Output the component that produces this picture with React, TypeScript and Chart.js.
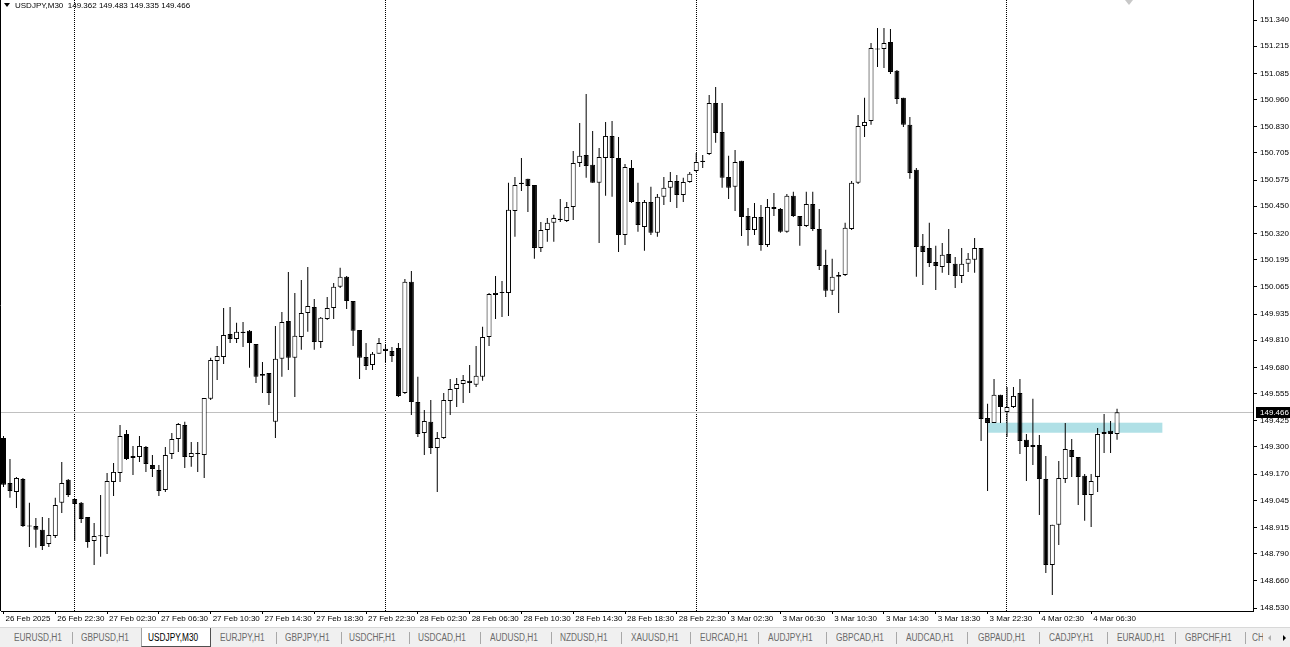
import React, { useEffect, useRef } from "react";
import { Chart, registerables } from "chart.js";

Chart.register(...registerables);

// ---- header quote ----
const symbolTitle = "USDJPY,M30";
const lastQuote = ["149.362", "149.483", "149.335", "149.466"];

// ---- OHLC (M30 bars, 26 Feb 18:30 .. 4 Mar 08:30) ----
const opens = [
  149.343, 149.128, 149.085, 149.147, 148.925, 148.923, 148.904, 148.837, 148.875, 149.033,
  149.143, 149.052, 149.033, 148.966, 148.851, 148.873, 148.870, 149.133, 149.176, 149.362,
  149.247, 149.252, 149.300, 149.214, 149.190, 149.095, 149.266, 149.338, 149.405, 149.252,
  149.271, 149.262, 149.530, 149.711, 149.730, 149.840, 149.816, 149.845, 149.855, 149.792,
  149.640, 149.654, 149.420, 149.721, 149.902, 149.726, 149.826, 149.940, 149.969, 149.802,
  149.912, 149.964, 150.065, 150.113, 149.997, 149.859, 149.730, 149.692, 149.745, 149.769,
  149.759, 149.773, 149.558, 150.089, 149.515, 149.367, 149.420, 149.295, 149.343, 149.520,
  149.577, 149.601, 149.616, 149.597, 149.635, 149.826, 150.026, 150.041, 150.036, 150.428,
  150.557, 150.581, 150.552, 150.251, 150.337, 150.371, 150.390, 150.380, 150.447, 150.657,
  150.695, 150.648, 150.562, 150.681, 150.786, 150.681, 150.313, 150.633, 150.471, 150.351,
  150.471, 150.323, 150.495, 150.538, 150.571, 150.504, 150.566, 150.619, 150.667, 150.700,
  150.944, 150.805, 150.590, 150.543, 150.667, 150.404, 150.337, 150.399, 150.265, 150.447,
  150.437, 150.328, 150.500, 150.404, 150.356, 150.461, 150.342, 150.170, 150.046, 150.113,
  150.122, 150.342, 150.562, 150.834, 150.858, 151.204, 151.202, 151.235, 151.097, 150.968,
  150.839, 150.624, 150.261, 150.251, 150.184, 150.160, 150.222, 150.175, 150.117, 150.175,
  150.194, 150.251, 149.438, 149.415, 149.549, 149.467, 149.491, 149.558, 149.334, 149.300,
  149.309, 149.147, 148.736, 148.928, 149.147, 149.286, 149.252, 149.162, 149.071, 149.157,
  149.362, 149.377, 149.362,
];
const highs = [
  149.353, 149.242, 149.157, 149.152, 149.033, 148.961, 148.966, 148.961, 149.057, 149.228,
  149.147, 149.052, 149.037, 148.966, 148.937, 149.071, 149.176, 149.224, 149.405, 149.381,
  149.305, 149.353, 149.305, 149.262, 149.214, 149.300, 149.367, 149.415, 149.420, 149.324,
  149.324, 149.534, 149.726, 149.783, 149.964, 149.969, 149.893, 149.897, 149.859, 149.792,
  149.706, 149.654, 149.878, 149.945, 150.136, 150.036, 150.098, 150.160, 150.007, 149.921,
  150.017, 150.084, 150.156, 150.117, 149.997, 149.859, 149.797, 149.754, 149.821, 149.788,
  149.778, 149.797, 150.103, 150.141, 149.635, 149.477, 149.525, 149.372, 149.558, 149.625,
  149.630, 149.644, 149.692, 149.783, 149.874, 150.036, 150.117, 150.093, 150.562, 150.590,
  150.681, 150.581, 150.552, 150.375, 150.394, 150.409, 150.485, 150.471, 150.714, 150.848,
  150.987, 150.810, 150.729, 150.853, 150.858, 150.781, 150.652, 150.671, 150.562, 150.480,
  150.543, 150.509, 150.590, 150.614, 150.600, 150.586, 150.614, 150.705, 150.695, 150.982,
  151.020, 150.944, 150.691, 150.719, 150.667, 150.442, 150.466, 150.456, 150.485, 150.514,
  150.442, 150.509, 150.519, 150.404, 150.519, 150.519, 150.437, 150.242, 150.199, 150.136,
  150.371, 150.571, 150.886, 150.968, 151.230, 151.302, 151.302, 151.297, 151.101, 150.968,
  150.877, 150.633, 150.318, 150.371, 150.261, 150.275, 150.342, 150.208, 150.251, 150.227,
  150.299, 150.251, 149.506, 149.625, 149.549, 149.587, 149.587, 149.625, 149.362, 149.530,
  149.357, 149.257, 148.928, 149.233, 149.415, 149.338, 149.252, 149.171, 149.171, 149.391,
  149.458, 149.424, 149.483,
];
const lows = [
  149.109, 149.057, 149.009, 148.918, 148.822, 148.818, 148.808, 148.822, 148.865, 148.985,
  149.061, 148.851, 148.937, 148.818, 148.736, 148.775, 148.789, 149.066, 149.133, 149.238,
  149.166, 149.228, 149.181, 149.157, 149.066, 149.085, 149.242, 149.276, 149.200, 149.205,
  149.181, 149.152, 149.525, 149.620, 149.697, 149.797, 149.797, 149.778, 149.678, 149.606,
  149.558, 149.501, 149.343, 149.635, 149.668, 149.539, 149.764, 149.850, 149.764, 149.773,
  149.907, 149.912, 150.060, 149.959, 149.783, 149.625, 149.668, 149.668, 149.745, 149.702,
  149.706, 149.539, 149.553, 149.453, 149.348, 149.262, 149.266, 149.085, 149.338, 149.453,
  149.491, 149.510, 149.558, 149.587, 149.616, 149.783, 149.912, 149.921, 149.926, 150.304,
  150.523, 150.423, 150.199, 150.232, 150.280, 150.280, 150.375, 150.375, 150.385, 150.638,
  150.586, 150.562, 150.275, 150.500, 150.495, 150.232, 150.265, 150.466, 150.328, 150.237,
  150.313, 150.304, 150.456, 150.471, 150.442, 150.471, 150.562, 150.614, 150.633, 150.695,
  150.753, 150.538, 150.485, 150.428, 150.308, 150.261, 150.313, 150.237, 150.256, 150.404,
  150.323, 150.323, 150.399, 150.261, 150.351, 150.332, 150.146, 150.017, 150.026, 149.940,
  150.117, 150.337, 150.557, 150.781, 150.839, 151.116, 151.111, 151.082, 150.939, 150.829,
  150.581, 150.113, 150.074, 150.160, 150.050, 150.132, 150.122, 150.060, 150.084, 150.136,
  150.132, 149.329, 149.090, 149.415, 149.415, 149.348, 149.486, 149.266, 149.138, 149.214,
  148.975, 148.698, 148.593, 148.832, 149.128, 149.157, 149.023, 148.947, 148.918, 149.085,
  149.271, 149.271, 149.335,
];
const closes = [
  149.119, 149.090, 149.152, 148.923, 148.920, 148.904, 148.827, 148.880, 149.023, 149.128,
  149.071, 149.028, 148.956, 148.846, 148.875, 148.878, 149.138, 149.181, 149.353, 149.242,
  149.257, 149.305, 149.219, 149.195, 149.090, 149.262, 149.338, 149.410, 149.252, 149.271,
  149.266, 149.534, 149.716, 149.735, 149.835, 149.816, 149.850, 149.850, 149.797, 149.635,
  149.649, 149.558, 149.721, 149.897, 149.726, 149.831, 149.940, 149.974, 149.802, 149.917,
  149.964, 150.065, 150.113, 149.997, 149.855, 149.726, 149.687, 149.745, 149.797, 149.759,
  149.735, 149.544, 150.089, 149.515, 149.362, 149.424, 149.295, 149.343, 149.525, 149.577,
  149.601, 149.620, 149.606, 149.640, 149.826, 150.031, 150.036, 150.036, 150.433, 150.552,
  150.562, 150.547, 150.251, 150.337, 150.371, 150.394, 150.385, 150.447, 150.657, 150.691,
  150.643, 150.562, 150.686, 150.786, 150.681, 150.313, 150.638, 150.471, 150.361, 150.471,
  150.323, 150.495, 150.538, 150.571, 150.504, 150.566, 150.605, 150.662, 150.662, 150.944,
  150.800, 150.586, 150.538, 150.662, 150.399, 150.337, 150.399, 150.265, 150.447, 150.437,
  150.328, 150.500, 150.404, 150.356, 150.461, 150.342, 150.165, 150.046, 150.113, 150.122,
  150.347, 150.562, 150.834, 150.853, 151.206, 151.199, 151.230, 151.092, 150.963, 150.839,
  150.609, 150.256, 150.232, 150.179, 150.165, 150.218, 150.179, 150.117, 150.175, 150.199,
  150.251, 149.434, 149.415, 149.549, 149.491, 149.491, 149.544, 149.329, 149.300, 149.309,
  149.147, 148.736, 148.928, 149.152, 149.290, 149.252, 149.157, 149.071, 149.138, 149.362,
  149.372, 149.362, 149.466,
];

// ---- time axis ----
const timeLabelBars = [0, 8, 16, 24, 32, 40, 48, 56, 64, 72, 80, 88, 96, 104, 112, 120, 128, 136, 144, 152, 160, 168];
const timeLabels = [
  "26 Feb 2025", "26 Feb 22:30", "27 Feb 02:30", "27 Feb 06:30", "27 Feb 10:30", "27 Feb 14:30",
  "27 Feb 18:30", "27 Feb 22:30", "28 Feb 02:30", "28 Feb 06:30", "28 Feb 10:30", "28 Feb 14:30",
  "28 Feb 18:30", "28 Feb 22:30", "3 Mar 02:30", "3 Mar 06:30", "3 Mar 10:30", "3 Mar 14:30",
  "3 Mar 18:30", "3 Mar 22:30", "4 Mar 02:30", "4 Mar 06:30",
];
const daySeparatorBars = [11, 59, 107, 155];

// ---- price axis ----
const priceTickLabels = [
  "151.340", "151.215", "151.085", "150.960", "150.830", "150.705", "150.575", "150.450",
  "150.320", "150.195", "150.065", "149.935", "149.810", "149.680", "149.555", "149.425",
  "149.300", "149.170", "149.045", "148.915", "148.790", "148.660", "148.530",
];
const priceRange = [148.5163, 151.4356];
const barRange = [-0.386, 193.0];
const bidPrice = 149.466;

// ---- rectangle object ----
const zoneBars = [152.1, 179.0];
const zonePrices = [149.416, 149.368];

// ---- symbol tabs ----
const tabNames = [
  "EURUSD,H1", "GBPUSD,H1", "USDJPY,M30", "EURJPY,H1", "GBPJPY,H1", "USDCHF,H1", "USDCAD,H1",
  "AUDUSD,H1", "NZDUSD,H1", "XAUUSD,H1", "EURCAD,H1", "AUDJPY,H1", "GBPCAD,H1", "AUDCAD,H1",
  "GBPAUD,H1", "CADJPY,H1", "EURAUD,H1", "GBPCHF,H1", "CHFJPY,H1",
];
const tabLeft = [14, 81, 148, 220, 285, 349, 418, 490, 560, 631, 700, 768, 836, 906, 978, 1049, 1117, 1185, 1252];
const tabSeparators = [72, 276, 341, 409, 480, 551, 621, 690, 758, 826, 896, 967, 1039, 1107, 1175, 1245];
const activeTab = 2;

const FONT = '"Liberation Sans", Arial, sans-serif';

export default function App() {
  const canvasRef = useRef<HTMLCanvasElement | null>(null);

  useEffect(() => {
    const canvas = canvasRef.current;
    if (!canvas) return;
    const idx = opens.map((_, i) => i);
    const bodyData = idx.map((i) => ({
      x: i,
      y: [Math.min(opens[i], closes[i]), Math.max(opens[i], closes[i])],
    }));
    const wickData = idx.map((i) => ({ x: i, y: [lows[i], highs[i]] }));
    const bodyColors = idx.map((i) => (closes[i] >= opens[i] ? "#ffffff" : "#000000"));

    const noPad = (s: any) => {
      s.paddingTop = 0;
      s.paddingBottom = 0;
      s.paddingLeft = 0;
      s.paddingRight = 0;
    };

    const overlay = {
      id: "mtOverlay",
      beforeDatasetsDraw(chart: any) {
        const { ctx, chartArea, scales } = chart;
        const x = scales.x;
        const y = scales.y;
        ctx.save();
        const zx1 = x.getPixelForValue(zoneBars[0]);
        const zx2 = x.getPixelForValue(zoneBars[1]);
        const zy1 = y.getPixelForValue(zonePrices[0]);
        const zy2 = y.getPixelForValue(zonePrices[1]);
        ctx.fillStyle = "#b0e0e6";
        ctx.fillRect(zx1, zy1, zx2 - zx1, zy2 - zy1);
        const by = Math.round(y.getPixelForValue(bidPrice)) + 0.5;
        ctx.strokeStyle = "#c0c0c0";
        ctx.lineWidth = 1;
        ctx.beginPath();
        ctx.moveTo(chartArea.left, by);
        ctx.lineTo(chartArea.right, by);
        ctx.stroke();
        ctx.strokeStyle = "#000";
        ctx.beginPath();
        ctx.moveTo(0.5, 0);
        ctx.lineTo(0.5, chartArea.bottom);
        ctx.stroke();
        ctx.restore();
      },
      afterDraw(chart: any) {
        const { ctx, chartArea, scales } = chart;
        const y = scales.y;
        const by = Math.round(y.getPixelForValue(bidPrice));
        ctx.save();
        ctx.fillStyle = "#000";
        ctx.fillRect(chartArea.right + 3, by - 5, 37, 11);
        ctx.fillStyle = "#fff";
        ctx.font = `8px ${FONT}`;
        ctx.textBaseline = "middle";
        ctx.textAlign = "left";
        ctx.fillText(bidPrice.toFixed(3), chartArea.right + 7, by + 0.5);
        ctx.restore();
      },
    };

    const chart = new Chart(canvas, {
      type: "bar",
      data: {
        datasets: [
          {
            label: "body",
            data: bodyData as any,
            backgroundColor: bodyColors,
            borderColor: "#000000",
            borderWidth: 1,
            borderSkipped: false,
            barThickness: 5,
            grouped: false,
            inflateAmount: 0,
            order: 0,
            xAxisID: "x",
            yAxisID: "y",
          } as any,
          {
            label: "wick",
            data: wickData as any,
            backgroundColor: "#000000",
            borderWidth: 0,
            barThickness: 1,
            grouped: false,
            inflateAmount: 0,
            order: 1,
            xAxisID: "x",
            yAxisID: "y",
          } as any,
        ],
      },
      options: {
        responsive: false,
        animation: false,
        events: [],
        layout: { autoPadding: false, padding: { left: 1, top: 0, right: 0, bottom: 0 } },
        plugins: { legend: { display: false }, tooltip: { enabled: false } },
        scales: {
          x: {
            type: "linear",
            position: "bottom",
            bounds: "data",
            offset: false,
            min: barRange[0],
            max: barRange[1],
            afterBuildTicks: (s: any) => {
              s.ticks = timeLabelBars.map((v) => ({ value: v }));
            },
            afterFit: (s: any) => {
              s.height = 16;
              noPad(s);
            },
            ticks: {
              autoSkip: false,
              maxRotation: 0,
              minRotation: 0,
              align: "start",
              labelOffset: 2,
              padding: 0,
              color: "#000",
              font: { family: FONT, size: 8 },
              callback: (_v: any, i: number) => timeLabels[i],
            },
            grid: { offset: false, drawOnChartArea: false, tickLength: 3, tickColor: "#000", color: "#000" },
            border: { display: true, color: "#000", width: 1 },
          } as any,
          xsep: {
            type: "linear",
            position: "bottom",
            bounds: "data",
            offset: false,
            min: barRange[0],
            max: barRange[1],
            afterBuildTicks: (s: any) => {
              s.ticks = daySeparatorBars.map((v) => ({ value: v }));
            },
            afterFit: (s: any) => {
              s.height = 0;
              noPad(s);
            },
            ticks: { display: false },
            grid: { offset: false, drawOnChartArea: true, drawTicks: false, color: "#000", lineWidth: 1 },
            border: { display: false, dash: [1, 1] },
          } as any,
          y: {
            type: "linear",
            position: "right",
            bounds: "data",
            min: priceRange[0],
            max: priceRange[1],
            afterBuildTicks: (s: any) => {
              s.ticks = priceTickLabels.map((l) => ({ value: parseFloat(l) })).reverse();
            },
            afterFit: (s: any) => {
              s.width = 37;
              noPad(s);
            },
            ticks: {
              autoSkip: false,
              padding: 3,
              color: "#000",
              font: { family: FONT, size: 8 },
              callback: (v: any) => Number(v).toFixed(3),
            },
            grid: { drawOnChartArea: false, tickLength: 4, tickColor: "#000", color: "#000" },
            border: { display: true, color: "#000", width: 1 },
          } as any,
        },
      },
      plugins: [overlay],
    });
    return () => chart.destroy();
  }, []);

  return (
    <div
      style={{
        position: "fixed",
        left: 0,
        top: 0,
        width: 1290,
        height: 647,
        background: "#fff",
        overflow: "hidden",
        fontFamily: FONT,
      }}
    >
      <div style={{ position: "absolute", left: 0, top: 0, width: 1290, height: 627 }}>
        <canvas ref={canvasRef} width={1290} height={627} style={{ display: "block" }} />
        <div
          style={{
            position: "absolute",
            left: 4,
            top: 3,
            width: 0,
            height: 0,
            borderLeft: "3px solid transparent",
            borderRight: "3px solid transparent",
            borderTop: "4px solid #000",
          }}
        />
        <div
          style={{
            position: "absolute",
            left: 15,
            top: 0,
            fontSize: 8,
            lineHeight: "11px",
            color: "#000",
            whiteSpace: "pre",
          }}
        >
          {symbolTitle + "  " + lastQuote.join(" ")}
        </div>
        <div
          style={{
            position: "absolute",
            left: 1125,
            top: 0,
            width: 0,
            height: 0,
            borderLeft: "4px solid transparent",
            borderRight: "4px solid transparent",
            borderTop: "5px solid #c8c8c8",
          }}
        />
      </div>
      <div
        style={{
          position: "absolute",
          left: 0,
          top: 627,
          width: 1290,
          height: 20,
          background: "#f0f0f0",
          borderTop: "1px solid #d8d8d8",
          boxSizing: "border-box",
        }}
      >
        <div
          style={{
            position: "absolute",
            left: 141,
            top: 0,
            width: 70,
            height: 19,
            background: "#fff",
            borderLeft: "1px solid #a0a0a0",
            borderRight: "1px solid #505050",
            borderBottom: "1px solid #505050",
            boxSizing: "border-box",
          }}
        />
        {tabSeparators.map((sx, i) => (
          <div
            key={"s" + i}
            style={{ position: "absolute", left: sx, top: 4, width: 1, height: 12, background: "#a8a8a8" }}
          />
        ))}
        {tabNames.map((name, i) => (
          <div
            key={name}
            style={{
              position: "absolute",
              left: tabLeft[i],
              top: 3,
              fontSize: 10,
              lineHeight: "13px",
              whiteSpace: "pre",
              color: i === activeTab ? "#000" : "#6a6a6a",
              transform: "scaleX(0.83)",
              transformOrigin: "left center",
            }}
          >
            {name}
          </div>
        ))}
        <div style={{ position: "absolute", left: 1263, top: 0, width: 27, height: 19, background: "#f0f0f0" }} />
        <div
          style={{
            position: "absolute",
            left: 1268,
            top: 7,
            width: 0,
            height: 0,
            borderTop: "3px solid transparent",
            borderBottom: "3px solid transparent",
            borderRight: "3px solid #b0b0b0",
          }}
        />
        <div
          style={{
            position: "absolute",
            left: 1283,
            top: 7,
            width: 0,
            height: 0,
            borderTop: "3px solid transparent",
            borderBottom: "3px solid transparent",
            borderLeft: "3px solid #000",
          }}
        />
      </div>
    </div>
  );
}
